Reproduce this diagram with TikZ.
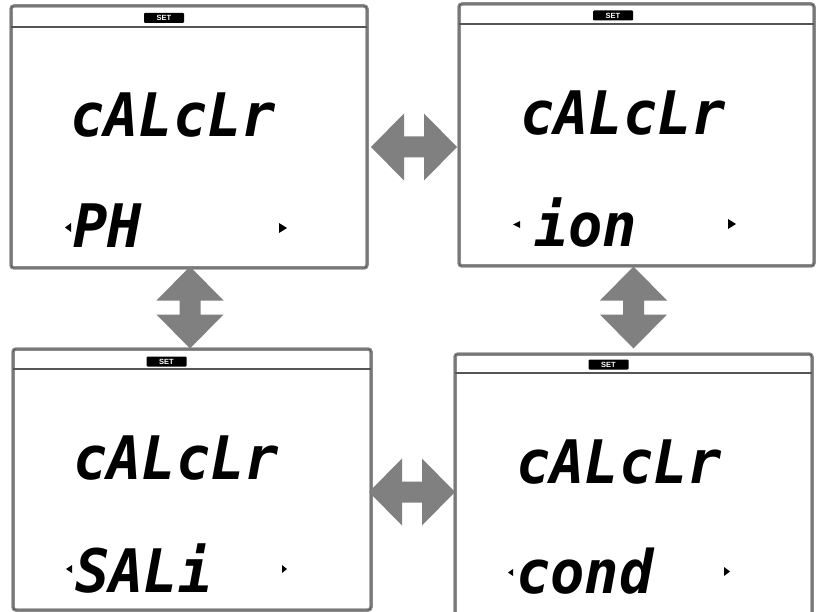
\documentclass[tikz,border=0pt]{standalone}
\usepackage{fontspec}
\newfontfamily\lcd[FakeStretch=0.95]{DejaVu Sans Mono}
\newfontfamily\labelfont{Liberation Sans}
\definecolor{framegray}{HTML}{8C8C8C}
\definecolor{framedark}{HTML}{555555}
\definecolor{arrowgray}{HTML}{808080}
\tikzset{
  panelouter/.style={draw=framegray, line width=3.5pt, rounded corners=3pt},
  panelinner/.style={draw=framedark, line width=0.9pt, rounded corners=3pt},
  headerline/.style={draw=framedark, line width=1.6pt},
  setbox/.style={fill=black, text=white, rounded corners=1pt, minimum width=40pt, minimum height=10pt, inner sep=0pt, font=\labelfont\bfseries\fontsize{7.5}{7.5}\selectfont},
  lcdtext/.style={anchor=base west, inner sep=0pt, font=\lcd\bfseries\itshape\fontsize{60}{60}\selectfont},
  tri/.style={fill=black},
  harrow/.pic={\fill[arrowgray] (-43,0) -- (-10,-33.5) -- (-10,-10.5) -- (10,-10.5) -- (10,-33.5) -- (43,0) -- (10,33.5) -- (10,10.5) -- (-10,10.5) -- (-10,33.5) -- cycle;},
  varrow/.pic={\fill[arrowgray] (0,-41) -- (-33.5,-7) -- (-10.5,-7) -- (-10.5,7) -- (-33.5,7) -- (0,41) -- (33.5,7) -- (10.5,7) -- (10.5,-7) -- (33.5,-7) -- cycle;}
}
\begin{document}
\begin{tikzpicture}[x=1pt, y=-1pt]
\useasboundingbox (0,0) rectangle (816,612);
\fill[white] (0,0) rectangle (816,612);

% ---------- panel frames ----------
\foreach \name/\xa/\ya/\xb/\yb/\hy in {p1/11/6/367/268/27, p2/459/4/814/266/24, p3/13/349/371/610/369, p4/455/354/812/616/373}{
  \draw[panelouter] (\xa,\ya) rectangle (\xb,\yb);
  \draw[panelinner] (\xa,\ya) rectangle (\xb,\yb);
  \draw[headerline] (\xa,\hy) -- (\xb,\hy);
}

% ---------- SET labels ----------
\node[setbox] (set1) at (164,18) {SET};
\node[setbox] (set2) at (613,15.5) {SET};
\node[setbox] (set3) at (166.5,361.5) {SET};
\node[setbox] (set4) at (608.5,364.5) {SET};

% ---------- LCD texts ----------
\node[lcdtext] (t1) at (70,137) {cALcLr};
\node[lcdtext] (b1) at (73,248) {PH};
\node[lcdtext] (t2) at (520,135) {cALcLr};
\node[lcdtext] (b2) at (534,247) {ion};
\node[lcdtext] (t3) at (73,479) {cALcLr};
\node[lcdtext] (b3) at (75,592) {SALi};
\node[lcdtext] (t4) at (516,483) {cALcLr};
\node[lcdtext] (b4) at (516,593) {cond};

% ---------- small indicator triangles ----------
\fill[tri] (65,227.5) -- (71,223) -- (71,232) -- cycle;
\fill[tri] (287,228) -- (279,223) -- (279,233) -- cycle;
\fill[tri] (513,224.5) -- (520,221) -- (520,228) -- cycle;
\fill[tri] (736,224) -- (728,219) -- (728,229) -- cycle;
\fill[tri] (66,569) -- (72,565) -- (72,573) -- cycle;
\fill[tri] (287,569) -- (282,565) -- (282,573) -- cycle;
\fill[tri] (508,572.5) -- (513,569) -- (513,576) -- cycle;
\fill[tri] (730,571.5) -- (724,567) -- (724,576) -- cycle;

% ---------- double arrows ----------
\pic at (414,147) {harrow};
\pic at (412,492) {harrow};
\pic at (190,307.5) {varrow};
\pic at (633.5,307.5) {varrow};
\end{tikzpicture}
\end{document}
